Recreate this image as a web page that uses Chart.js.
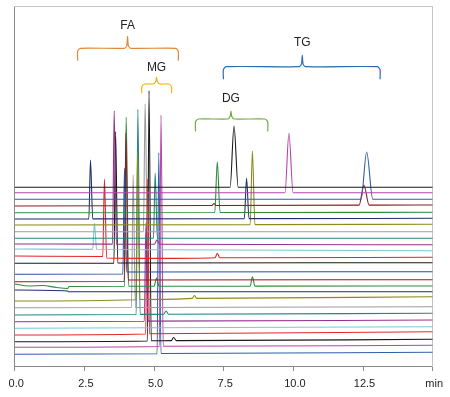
<!DOCTYPE html>
<html>
<head>
<meta charset="utf-8">
<script src="https://cdn.jsdelivr.net/npm/chart.js@4.4.1/dist/chart.umd.min.js"></script>
<style>
html,body{margin:0;padding:0;background:#fff;}
canvas{display:block;}
</style>
</head>
<body>
<canvas id="c" width="450" height="397"></canvas>
<script>
// x tick labels (minutes)
const tickLabels = ['0.0', '2.5', '5.0', '7.5', '10.0', '12.5', 'min'];

// Chromatogram traces, top to bottom: [time (min), offset signal]
const trace01 = [[0,178.7],[7.73,178.7],[7.87,240],[8.02,178.7],[15,178.7]];
const trace02 = [[0,173.3],[9.70,173.3],[9.84,232.7],[9.99,173.3],[15,173.3]];
const trace03 = [[0,166.7],[12.43,166.7],[12.63,214],[12.85,166.7],[15,166.7]];
const trace04 = [[0,160],[7.08,160.5],[7.15,162.5],[7.22,160.5],[12.36,160.9],[12.53,181],[12.72,160.9],[15,161]];
const trace05 = [[0,153.3],[7.18,153.5],[7.27,204.3],[7.37,153.5],[15,153.7]];
const trace06 = [[0,147],[2.66,147],[2.72,206],[2.80,147.1],[8.24,147.4],[8.32,187.7],[8.41,147.4],[15,147.7]];
const trace07 = [[0,141],[8.45,141.4],[8.53,215],[8.62,141.4],[15,141.7]];
const trace08 = [[0,134.3],[4.62,134.3],[4.68,262.3],[4.76,134.3],[15,134.3]];
const trace09 = [[0,127.7],[4.98,127.7],[5.04,193],[5.12,127.7],[15,127.7]];
const trace10 = [[0,122],[3.51,121.9],[3.57,255.3],[3.65,121.9],[5.02,121.8],[5.10,126],[5.20,121.8],[15,121.3]];
const trace11 = [[0,117],[2.80,116.6],[2.86,142.7],[2.94,116.5],[15,115.3]];
const trace12 = [[0,110],[3.16,109.5],[3.22,187],[3.30,108],[5.0,107.6],[7.19,108.3],[7.27,112.7],[7.36,108.3],[15,108.7]];
const trace13 = [[0,102.7],[3.56,102.7],[3.62,234.3],[3.70,103],[15,103.3]];
const trace14 = [[0,91.7],[3.88,92],[3.94,198],[4.02,94],[15,94.3]];
const trace15 = [[0,84.3],[3.93,84.5],[3.99,233],[4.07,86],[15,86.3]];
const trace16 = [[0,82],[0.5,80],[1.0,80.5],[1.5,78.5],[1.9,77.5],[1.95,79.5],[3.94,79.7],[4.00,249],[4.09,79.7],[5.0,79.8],[5.09,88],[5.18,79.8],[8.45,79.9],[8.53,89.3],[8.62,79.9],[15,80]];
const trace17 = [[0,76],[1.9,75],[1.92,74.3],[15,74.3]];
const trace18 = [[0,65],[4.35,66.3],[4.41,213],[4.49,66.5],[6.37,67.6],[6.45,70.5],[6.53,67.6],[15,69.3]];
const trace19 = [[0,58.3],[4.19,58.5],[4.25,191],[4.33,58.5],[15,59.3]];
const trace20 = [[0,51],[4.36,51.5],[4.42,256.7],[4.50,51.6],[5.35,51.8],[5.43,55],[5.52,51.8],[15,52.7]];
const trace21 = [[0,44.3],[4.65,44.8],[4.71,143],[4.79,44.9],[15,46]];
const trace22 = [[0,37.7],[15,39.3]];
const trace23 = [[0,31],[4.70,32],[4.76,187],[4.84,32.2],[15,34.3]];
const trace24 = [[0,24.3],[4.76,25],[4.82,275.3],[4.90,25.2],[5.62,25.4],[5.70,28.5],[5.80,25.4],[15,26.7]];
const trace25 = [[0,18.7],[5.19,19.5],[5.25,251],[5.33,19.7],[15,20.7]];
const trace26 = [[0,11.7],[5.11,12.3],[5.17,213.3],[5.25,12.5],[15,13.7]];

// Lipid class annotations: name, span start, span end, pointer time, bracket level
const classNames  = ['FA', 'MG', 'DG', 'TG'];
const classStart  = [2.26, 4.56, 6.49, 7.49];
const classEnd    = [5.87, 5.63, 9.08, 13.11];
const classCenter = [4.05, 5.09, 7.76, 10.32];
const classLevel  = [317.7, 282, 247, 299.3];

const traces = [trace01,trace02,trace03,trace04,trace05,trace06,trace07,trace08,trace09,trace10,trace11,trace12,trace13,
                trace14,trace15,trace16,trace17,trace18,trace19,trace20,trace21,trace22,trace23,trace24,trace25,trace26];
const traceColors = ['#1a1a1a','#b545a8','#2f5ea8','#8e1b22','#2f8a3c','#1e2f6e','#8c8a1f','#9c9c9c','#25857f','#93338f','#79c8d4','#e3262a',
                     '#1a1a1a','#2a4f9a','#8e1b22','#2f8a3c','#1e2f6e','#8c8a1f','#9c9c9c','#25857f','#93338f','#79c8d4','#e3262a','#1a1a1a','#b545a8','#2f5ea8'];
const classColors = ['#e0873c','#f2b70f','#6fae3f','#2b6cb0'];

const datasets = traces.map((tr, i) => ({
  data: tr.map(p => ({x: p[0], y: p[1]})),
  borderColor: traceColors[i],
  borderWidth: 1.1,
  pointRadius: 0,
  cubicInterpolationMode: 'monotone',
  fill: false
}));

// brace-shaped bracket lines for class annotations
classNames.forEach((n, k) => {
  const a = classStart[k], b = classEnd[k], c = classCenter[k], h = classLevel[k];
  const drop = k === 1 ? 9.3 : 12.5;
  const rise = [12, 7, 8, 11.7][k];
  const pts = [
    [a, h - drop], [a, h - 3], [a + 0.1, h],
    [c - 0.12, h], [c - 0.03, h + 2.5], [c, h + rise], [c + 0.03, h + 2.5], [c + 0.12, h],
    [b - 0.1, h], [b, h - 3], [b, h - drop]
  ];
  datasets.push({
    data: pts.map(p => ({x: p[0], y: p[1]})),
    borderColor: classColors[k],
    borderWidth: 1.2,
    pointRadius: 0,
    tension: 0.25,
    fill: false
  });
});

const labelLevel = [340, 298, 267.7, 323.3];
const classLabels = {
  id: 'classLabels',
  afterDatasetsDraw(chart) {
    const ctx = chart.ctx, xs = chart.scales.x, ys = chart.scales.y;
    ctx.save();
    ctx.font = '12px "Liberation Sans", Arial, sans-serif';
    ctx.fillStyle = '#222';
    ctx.textAlign = 'center';
    ctx.textBaseline = 'middle';
    classNames.forEach((n, k) => {
      ctx.fillText(n, xs.getPixelForValue(classCenter[k]), ys.getPixelForValue(labelLevel[k]));
    });
    ctx.restore();
  }
};

new Chart(document.getElementById('c'), {
  type: 'line',
  data: { datasets },
  options: {
    responsive: false,
    animation: false,
    events: [],
    layout: { padding: { left: 14.7, right: 17.3, top: 6, bottom: 0 } },
    plugins: { legend: { display: false }, tooltip: { enabled: false } },
    scales: {
      x: {
        type: 'linear', position: 'bottom', min: 0, max: 15,
        afterFit: (s) => { s.height = 31; },
        border: { display: true, color: '#8a8a8a', width: 1 },
        grid: { drawOnChartArea: false, drawTicks: true, tickLength: 5, color: '#8a8a8a' },
        ticks: {
          stepSize: 2.5, padding: 6, labelOffset: 1.5, color: '#222', maxRotation: 0, autoSkip: false,
          font: { family: '"Liberation Sans", Arial, sans-serif', size: 11 },
          callback: (v, i) => tickLabels[i]
        }
      },
      y: {
        type: 'linear', position: 'left', min: 0, max: 360,
        afterFit: (s) => { s.width = 0; },
        border: { display: true, color: '#8a8a8a', width: 1 },
        grid: { display: false, drawTicks: false },
        ticks: { display: false }
      },
      x2: {
        type: 'linear', position: 'top', axis: 'x', min: 0, max: 15,
        afterFit: (s) => { s.height = 0; },
        border: { display: true, color: '#c4c4c4', width: 1 },
        grid: { display: false, drawTicks: false },
        ticks: { display: false }
      },
      y2: {
        type: 'linear', position: 'right', axis: 'y', min: 0, max: 360,
        afterFit: (s) => { s.width = 0; },
        border: { display: true, color: '#c4c4c4', width: 1 },
        grid: { display: false, drawTicks: false },
        ticks: { display: false }
      }
    }
  },
  plugins: [classLabels]
});
</script>
</body>
</html>
